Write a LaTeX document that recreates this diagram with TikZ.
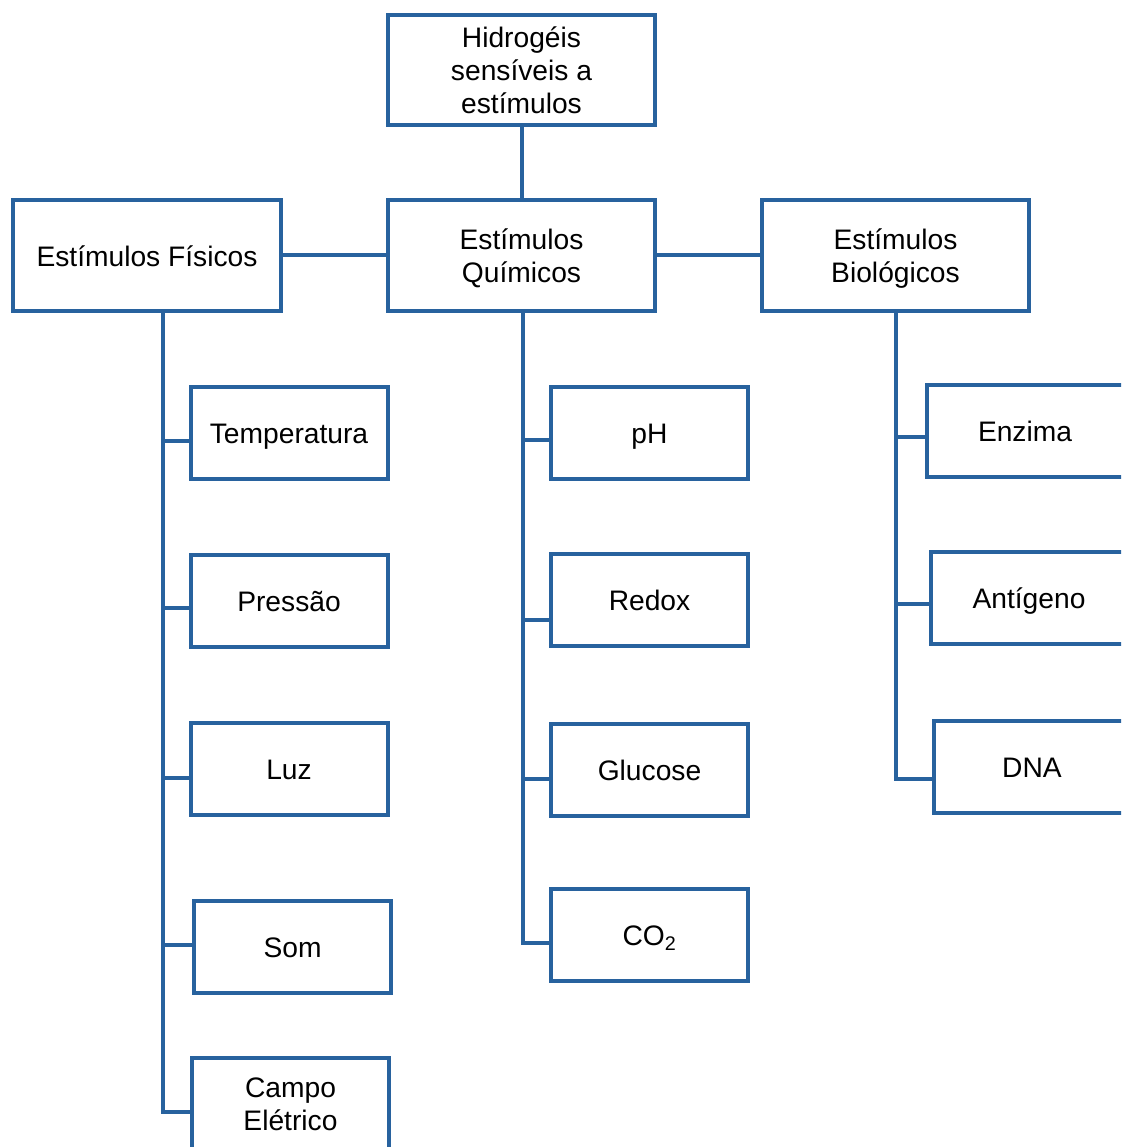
\documentclass[tikz,border=0pt]{standalone}
\usepackage{fontspec}
\setmainfont{Liberation Sans}
\definecolor{boxblue}{RGB}{40,98,158}
% centred block of lines, set a little low so the capitals sit mid-box
\newcommand{\boxtext}[1]{\raisebox{-4pt}[\height][\depth]{\begin{tabular}{@{}c@{}}#1\end{tabular}}}
\begin{document}
\begin{tikzpicture}[x=1pt,y=-1pt,
  every node/.style={font=\fontsize{28.2}{33}\selectfont},
  bigbox/.style={draw=boxblue,line width=4pt,fill=white,minimum width=267pt,minimum height=110pt,inner sep=0pt},
  leafbox/.style={draw=boxblue,line width=4pt,fill=white,minimum width=197pt,minimum height=92pt,inner sep=0pt},
  link/.style={draw=boxblue,line width=4pt}]
\useasboundingbox (0,0) rectangle (1121,1147);
\clip (0,0) rectangle (1121,1147);

% branch points on the three trunks
\coordinate (fb1) at (163,441);
\coordinate (fb2) at (163,608);
\coordinate (fb3) at (163,778);
\coordinate (fb4) at (163,945);
\coordinate (fb5) at (163,1112);
\coordinate (qb1) at (523,440);
\coordinate (qb2) at (523,620);
\coordinate (qb3) at (523,779);
\coordinate (qb4) at (523,943);
\coordinate (bb1) at (896,437);
\coordinate (bb2) at (896,604);
\coordinate (bb3) at (896,779);

% main boxes
\node[bigbox] (top) at (521.5,70) {\boxtext{Hidrogéis\\sensíveis a\\estímulos}};
\node[bigbox,minimum width=268pt] (fis) at (147,255.5) {\boxtext{Estímulos Físicos}};
\node[bigbox] (qui) at (521.5,255.5) {\boxtext{Estímulos\\Químicos}};
\node[bigbox] (bio) at (895.5,255.5) {\boxtext{Estímulos\\Biológicos}};

% physical stimuli
\node[leafbox] (temp) at (289,432.5) {\boxtext{Temperatura}};
\node[leafbox] (pres) at (289,600.5) {\boxtext{Pressão}};
\node[leafbox] (luz)  at (289,768.5) {\boxtext{Luz}};
\node[leafbox] (som)  at (292.5,946.5) {\boxtext{Som}};
\node[leafbox] (camp) at (290.5,1103.5) {\boxtext{Campo\\Elétrico}};

% chemical stimuli
\node[leafbox] (ph)    at (649.5,432.5) {\boxtext{pH}};
\node[leafbox] (redox) at (649.5,599.5) {\boxtext{Redox}};
\node[leafbox] (gluc)  at (649.5,769.5) {\boxtext{Glucose}};
\node[leafbox] (co2)   at (649.5,934.5) {\boxtext{CO\textsubscript{2}}};

% biological stimuli
\node[leafbox] (enz) at (1025,430.5) {\boxtext{Enzima}};
\node[leafbox] (ant) at (1029,597.5) {\boxtext{Antígeno}};
\node[leafbox] (dna) at (1032,766.5) {\boxtext{DNA}};

% hierarchy links
\draw[link] (top.south) -- (qui.north);
\draw[link] (fis.east) -- (qui.west);
\draw[link] (qui.east) -- (bio.west);

% trunks with their branches
\draw[link] (fis.south -| fb5) |- (fb5 -| camp.west);
\draw[link] (fb1) -- (fb1 -| temp.west);
\draw[link] (fb2) -- (fb2 -| pres.west);
\draw[link] (fb3) -- (fb3 -| luz.west);
\draw[link] (fb4) -- (fb4 -| som.west);

\draw[link] (qui.south -| qb4) |- (qb4 -| co2.west);
\draw[link] (qb1) -- (qb1 -| ph.west);
\draw[link] (qb2) -- (qb2 -| redox.west);
\draw[link] (qb3) -- (qb3 -| gluc.west);

\draw[link] (bio.south -| bb3) |- (bb3 -| dna.west);
\draw[link] (bb1) -- (bb1 -| enz.west);
\draw[link] (bb2) -- (bb2 -| ant.west);
\end{tikzpicture}
\end{document}
